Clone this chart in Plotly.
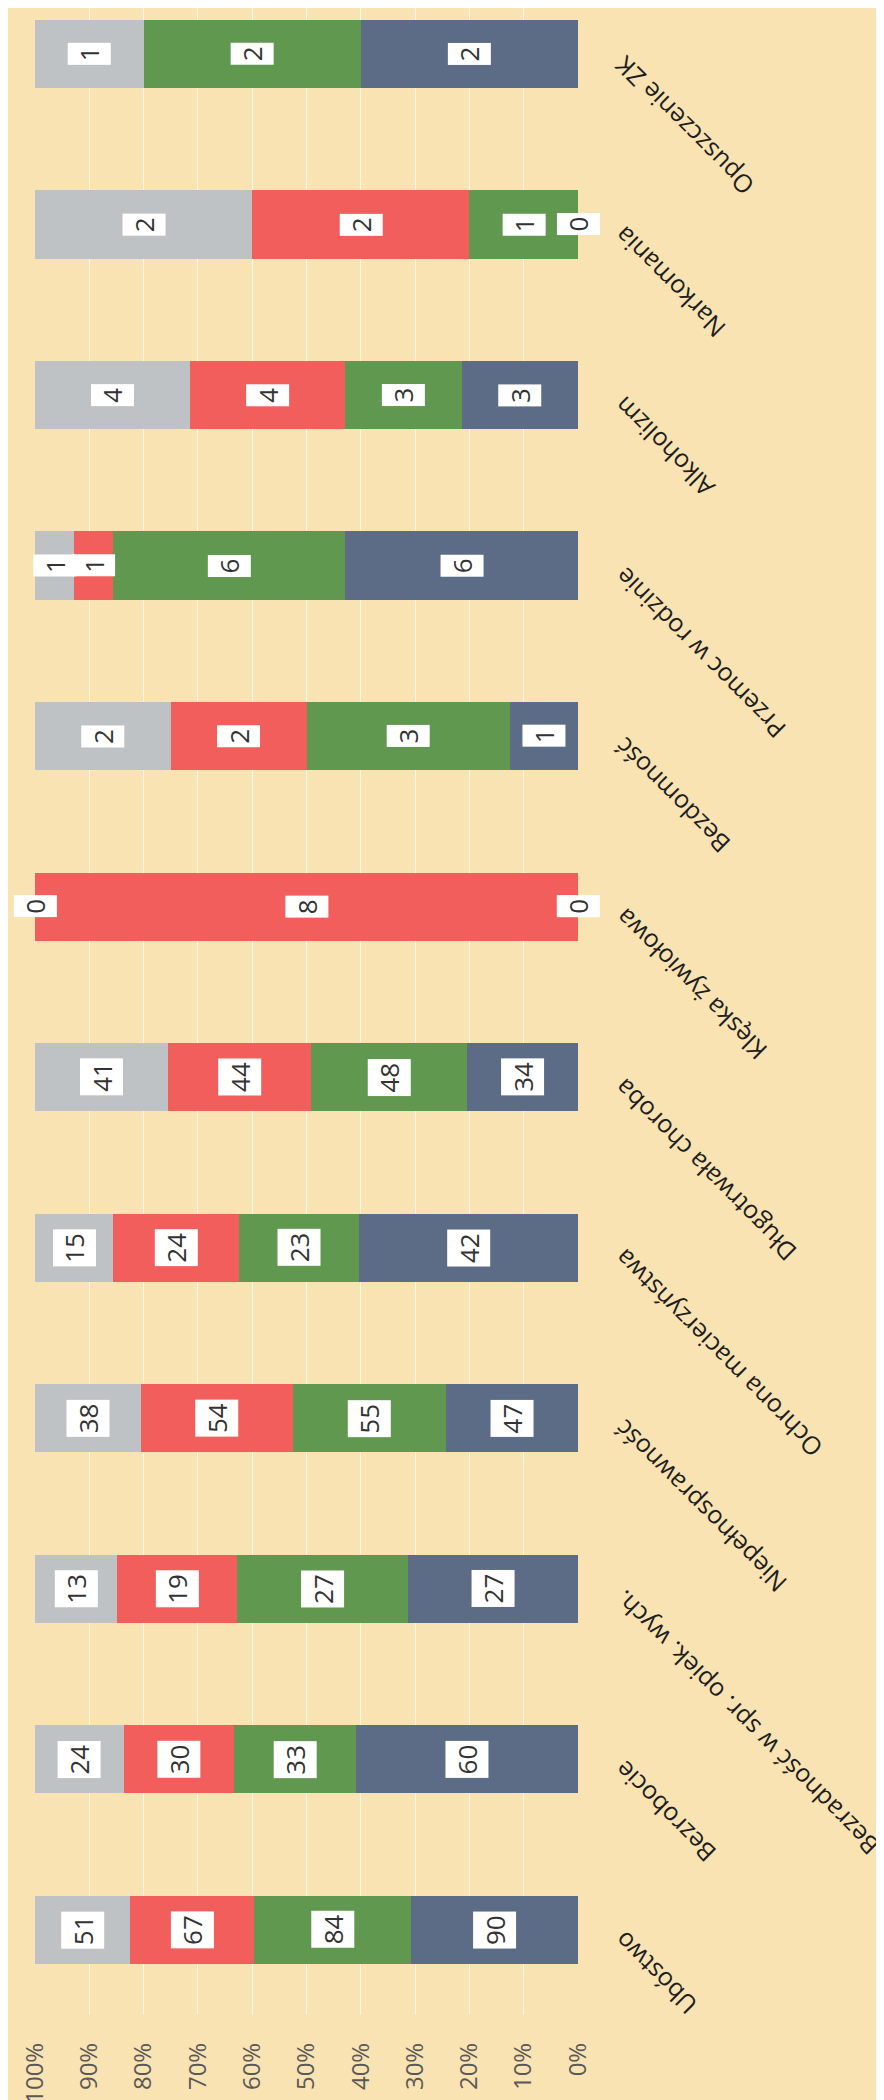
import plotly.graph_objects as go

categories = [
    "Ubóstwo",
    "Bezrobocie",
    "Bezradność w spr. opiek. wych.",
    "Niepełnosprawność",
    "Ochrona macierzyństwa",
    "Długotrwała choroba",
    "Klęska żywiołowa",
    "Bezdomność",
    "Przemoc w rodzinie",
    "Alkoholizm",
    "Narkomania",
    "Opuszczenie ZK",
]

series_names = ["Seria 1", "Seria 2", "Seria 3", "Seria 4"]
s1 = [90, 60, 27, 47, 42, 34, 0, 1, 6, 3, 0, 2]
s2 = [84, 33, 27, 55, 23, 48, 0, 3, 6, 3, 1, 2]
s3 = [67, 30, 19, 54, 24, 44, 8, 2, 1, 4, 2, None]
s4 = [51, 24, 13, 38, 15, 41, 0, 2, 1, 4, 2, 1]
series = [s1, s2, s3, s4]
colors = ["#5C6B86", "#60984F", "#F25E5C", "#BFC2C5"]

tick_vals = [i / 10 for i in range(11)]
tick_text = [f"{i * 10}%" for i in range(11)]

BG = "#F9E3B2"
FONT = "Open Sans"

fig = go.Figure()
for name, vals, col in zip(series_names, series, colors):
    fig.add_trace(go.Bar(
        y=categories, x=vals, name=name, orientation="h",
        marker=dict(color=col, line=dict(width=0)),
        hoverinfo="x+y+name",
    ))

annotations = []
# data labels in white boxes, centred on each segment
for ci, cat in enumerate(categories):
    vals = [s[ci] for s in series]
    total = sum(v for v in vals if v is not None)
    cum = 0.0
    for v in vals:
        if v is None:
            continue
        frac = v / total if total else 0
        mid = cum + frac / 2
        cum += frac
        annotations.append(dict(
            x=mid, y=cat, xref="x", yref="y", text=str(v), showarrow=False,
            textangle=-90, bgcolor="white", borderpad=3,
            font=dict(family=FONT, size=26, color="#333333"),
        ))

# category labels, rotated
for cat in categories:
    annotations.append(dict(
        x=1, y=cat, xref="paper", yref="y", text=cat, showarrow=False,
        textangle=-135, xanchor="left", yanchor="top", xshift=26, yshift=8,
        font=dict(family=FONT, size=25, color="#1E1E1E"),
    ))

fig.update_layout(
    width=884, height=2100,
    margin=dict(l=27, r=314, t=0, b=93),
    barmode="stack", barnorm="fraction", bargap=0.6,
    paper_bgcolor=BG, plot_bgcolor=BG,
    showlegend=False,
    font=dict(family=FONT, size=24, color="#595959"),
    annotations=annotations,
)
fig.update_xaxes(
    range=[1, 0], tickvals=tick_vals, ticktext=tick_text, tickangle=-90,
    showgrid=True, gridcolor="rgba(255,255,255,0.75)", gridwidth=1,
    zeroline=False, showline=False, ticks="", ticklabelstandoff=22,
    tickfont=dict(family=FONT, size=24, color="#595959"),
)
fig.update_yaxes(
    categoryorder="array", categoryarray=categories,
    range=[-0.5, 11.27], showticklabels=False, showgrid=False,
    zeroline=False, showline=False, ticks="",
)

fig.write_html("out.html")
